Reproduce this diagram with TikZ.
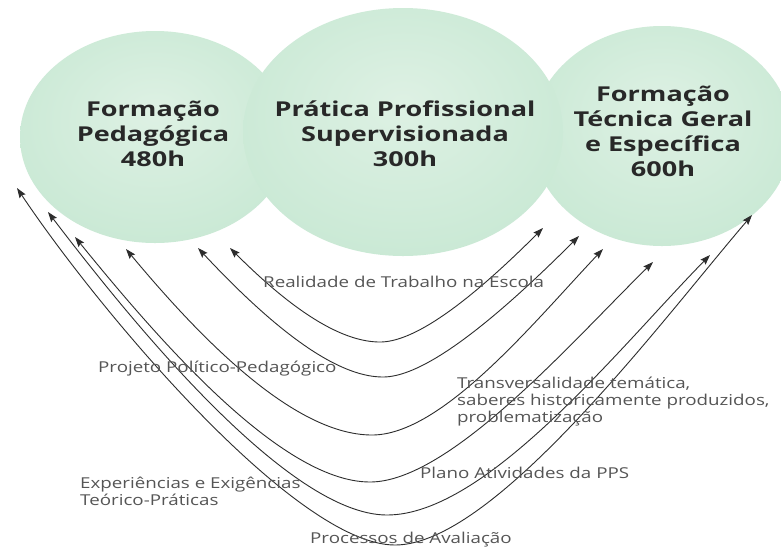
\documentclass[tikz,border=0pt]{standalone}
\usepackage{fontspec}
\setmainfont{Open Sans}[FakeStretch=1.25, BoldFeatures={FakeStretch=1.32}]
\usetikzlibrary{arrows.meta,shapes.geometric}
\definecolor{cin}{RGB}{222,241,228}
\definecolor{cmid}{RGB}{202,233,213}
\definecolor{cedge}{RGB}{176,221,194}
\definecolor{cout}{RGB}{158,211,180}
\definecolor{txt}{RGB}{40,40,40}
\definecolor{lab}{RGB}{85,85,85}
\definecolor{ln}{RGB}{45,45,45}
\pgfdeclareradialshading{ball}{\pgfpoint{0bp}{6bp}}{color(0bp)=(cin); color(28bp)=(cmid); color(44bp)=(cedge); color(50bp)=(cout)}
\tikzset{
  bubble/.style={ellipse, shading=ball, inner sep=0pt, draw=none},
  title/.style={font={\bfseries\fontsize{20.5}{25}\selectfont}, text=txt, align=center, inner sep=0pt, anchor=north},
  lbl/.style={font={\fontsize{15}{17}\selectfont}, text=lab, inner sep=0pt},
  link/.style={draw=ln, line width=0.9pt, {Stealth[length=10pt,width=7pt,inset=1.5pt]}-{Stealth[length=10pt,width=7pt,inset=1.5pt]}}
}
\begin{document}
\begin{tikzpicture}[x=1pt,y=-1pt]
\fill[white] (0,0) rectangle (781,550);
\useasboundingbox (0,0) rectangle (781,550);
\clip (0,0) rectangle (781,550);
% circles
\node[bubble, minimum width=270pt, minimum height=212pt] (fp) at (155,137) {};
\node[bubble, minimum width=260pt, minimum height=220pt] (ft) at (662,136) {};
\node[bubble, minimum width=320pt, minimum height=248pt] (pp) at (403,132) {};
% titles
\node[title] (tfp) at (153,101) {Formação\\Pedagógica\\480h};
\node[title] (tpp) at (405,101) {Prática Profissional\\Supervisionada\\300h};
\node[title] (tft) at (663,86) {Formação\\Técnica Geral\\e Específica\\600h};
% connector ends
\coordinate (la1) at (230,248); \coordinate (b1) at (380,342); \coordinate (ra1) at (543,228);
\coordinate (la2) at (198,248); \coordinate (b2) at (383,377); \coordinate (ra2) at (579,236);
\coordinate (la3) at (126,249); \coordinate (b3) at (372,435); \coordinate (ra3) at (603,249);
\coordinate (la4) at (75,237);  \coordinate (b4) at (370,482); \coordinate (ra4) at (653,262);
\coordinate (la5) at (48,212);  \coordinate (b5) at (387,515); \coordinate (ra5) at (710,255);
\coordinate (la6) at (17,188);  \coordinate (b6) at (395,545); \coordinate (ra6) at (752,215);
% connectors
\draw[link] (la1) .. controls (300.5,318.5) and (346.4,342) .. (b1) .. controls (409.4,342) and (457.5,313.5) .. (ra1);
\draw[link] (la2) .. controls (288.4,344.8) and (344.4,377) .. (b2) .. controls (416,377) and (473.3,341.8) .. (ra2);
\draw[link] (la3) .. controls (196,333) and (292,435) .. (b3) .. controls (442,435) and (533,323.2) .. (ra3);
\draw[link] (la4) .. controls (155,335.4) and (280,482) .. (b4) .. controls (450,482) and (573,340.4) .. (ra4);
\draw[link] (la5) .. controls (128,316.8) and (287,515) .. (b5) .. controls (487,515) and (620,346.8) .. (ra5);
\draw[link] (la6) .. controls (97,308) and (295,545) .. (b6) .. controls (495,545) and (662,320) .. (ra6);
% labels
\node[lbl, anchor=base west] (l1) at (263,287) {Realidade de Trabalho na Escola};
\node[lbl, anchor=base west] (l2) at (98,372) {Projeto Político-Pedagógico};
\node[lbl, anchor=north west, align=left] (l3) at (457,377) {Transversalidade temática,\\saberes historicamente produzidos,\\problematização};
\node[lbl, anchor=base west] (l4) at (420,478) {Plano Atividades da PPS};
\node[lbl, anchor=north west, align=left] (l5) at (80,477) {Experiências e Exigências\\Teórico-Práticas};
\node[lbl, anchor=base west] (l6) at (310,543) {Processos de Avaliação};
\end{tikzpicture}
\end{document}
